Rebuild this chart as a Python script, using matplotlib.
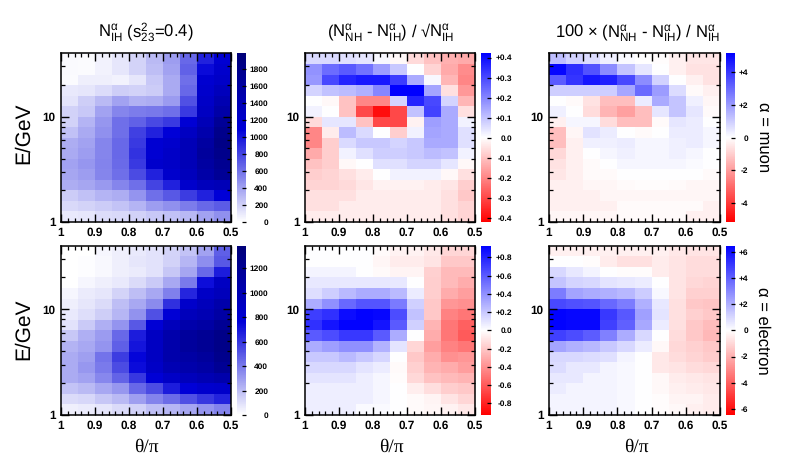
#!/usr/bin/env python3
"""Six event-count panels: IH counts and NH-IH differences, muon and electron."""

import numpy as np
import matplotlib
matplotlib.use("Agg")
import matplotlib.pyplot as plt
from matplotlib.colors import LinearSegmentedColormap, Normalize
from matplotlib.ticker import FixedLocator, FixedFormatter, NullFormatter

plt.rcParams["font.family"] = ["Liberation Sans", "DejaVu Sans"]
plt.rcParams["mathtext.fontset"] = "custom"
plt.rcParams["mathtext.rm"] = "Liberation Sans"
plt.rcParams["mathtext.it"] = "Liberation Sans"
plt.rcParams["mathtext.default"] = "regular"
plt.rcParams["text.hinting"] = "none"

W, H = 788, 469

# rows go from the top of each panel (highest energy) down
counts_muon = [
    [30, 20, 60, 110, 190, 300, 420, 650, 950, 1150],
    [30, 20, 60, 110, 190, 280, 400, 680, 1050, 1200],
    [20, 70, 70, 60, 110, 240, 370, 620, 1170, 1250],
    [100, 110, 150, 210, 200, 220, 370, 650, 1200, 1350],
    [120, 210, 300, 400, 340, 350, 430, 750, 1250, 1450],
    [200, 240, 400, 520, 560, 580, 620, 850, 1300, 1550],
    [200, 320, 450, 620, 680, 780, 850, 1130, 1400, 1700],
    [270, 370, 480, 620, 820, 950, 1100, 1300, 1500, 1800],
    [350, 400, 520, 650, 850, 1150, 1200, 1400, 1600, 1850],
    [370, 420, 520, 650, 880, 1150, 1250, 1400, 1650, 1800],
    [400, 450, 530, 640, 850, 1200, 1250, 1400, 1600, 1750],
    [380, 420, 520, 620, 770, 950, 1200, 1350, 1550, 1700],
    [350, 380, 440, 520, 620, 800, 950, 1200, 1350, 1400],
    [220, 270, 320, 350, 460, 620, 720, 830, 950, 1100],
    [170, 190, 220, 260, 320, 420, 480, 560, 650, 700],
    [100, 110, 150, 170, 200, 240, 270, 310, 400, 480],
]
signif_muon = [
    [.06, .06, .05, .04, .01, -.01, -.06, -.10, -.13, -.14],
    [.18, .24, .27, .23, .16, .09, 0, -.07, -.14, -.19],
    [.17, .30, .36, .38, .38, .32, .14, .01, -.12, -.20],
    [.07, .10, .11, .13, .20, .42, .42, .15, -.05, -.17],
    [0, -.01, -.10, -.20, -.20, .07, .36, .30, .07, -.12],
    [.02, 0, -.10, -.30, -.40, -.30, .10, .31, .14, -.05],
    [-.06, .04, .04, -.10, -.30, -.30, -.02, .16, .14, .02],
    [-.20, -.03, .11, .06, 0, -.08, .02, .15, .14, .05],
    [-.20, -.08, .06, .09, .09, .07, .09, .14, .14, .05],
    [-.14, -.08, .02, .05, .08, .08, .09, .11, .10, .02],
    [-.10, -.08, -.01, 0, .05, .05, .07, .07, .04, -.01],
    [-.08, -.07, -.05, -.03, 0, .02, .02, .02, -.01, -.05],
    [-.07, -.07, -.06, -.04, -.02, -.02, -.02, -.03, -.04, -.08],
    [-.05, -.05, -.05, -.03, -.03, -.03, -.03, -.03, -.05, -.09],
    [-.05, -.05, -.03, -.03, -.03, -.03, -.03, -.03, -.05, -.07],
    [-.03, -.03, -.03, -.03, -.03, -.03, -.03, -.03, -.05, -.07],
]
percent_muon = [
    [1.3, .9, .7, .3, .1, -.03, -.05, -.3, -.5, -.5],
    [5, 4.2, 3.5, 2.3, 1.2, .5, 0, -.3, -.6, -.6],
    [3.3, 4.1, 4.7, 4.5, 3.7, 2.3, .9, 0, -.3, -.6],
    [1, 1, 1, 1, 1.8, 3, 2, .7, -.1, -.3],
    [0, -.1, -.6, -1.3, -1.3, .4, 1.7, 1.2, .3, -.2],
    [.3, 0, -.7, -1.5, -1.9, -1.3, .5, 1.2, .5, -.1],
    [-.3, .2, .2, -.7, -1.3, -1.3, -.1, .5, .4, 0],
    [-1.3, -.2, .6, .4, 0, -.1, 0, .4, .4, .2],
    [-1.3, -.3, .3, .3, .4, .2, .2, .3, .4, .2],
    [-.8, -.3, 0, .2, .3, .2, .2, .3, .2, 0],
    [-.6, -.3, -.1, 0, .2, .2, .2, .2, .1, 0],
    [-.5, -.3, -.1, -.1, 0, 0, 0, 0, 0, -.1],
    [-.3, -.3, -.2, -.2, -.1, -.05, -.05, -.1, -.2, -.2],
    [-.3, -.3, -.3, -.2, -.2, -.2, -.2, -.2, -.2, -.2],
    [-.3, -.3, -.3, -.3, -.1, -.1, -.1, -.1, -.1, -.3],
    [-.2, -.2, -.2, -.2, -.1, -.1, -.1, -.1, -.3, -.3],
]
counts_electron = [
    [5, 5, 30, 50, 70, 90, 130, 180, 280, 480],
    [5, 8, 25, 50, 80, 90, 140, 220, 340, 500],
    [5, 8, 25, 50, 60, 90, 170, 270, 450, 680],
    [5, 30, 50, 70, 110, 160, 260, 400, 720, 900],
    [30, 60, 80, 130, 200, 260, 380, 650, 880, 950],
    [50, 80, 110, 200, 260, 350, 620, 850, 950, 1050],
    [70, 100, 150, 220, 330, 520, 780, 950, 1000, 1100],
    [90, 160, 240, 320, 500, 780, 950, 1050, 1100, 1200],
    [170, 240, 300, 450, 680, 900, 1050, 1150, 1200, 1280],
    [230, 260, 320, 480, 700, 900, 1050, 1150, 1200, 1280],
    [250, 290, 420, 580, 750, 900, 1050, 1100, 1150, 1250],
    [250, 310, 400, 540, 730, 880, 1000, 1050, 1100, 1200],
    [250, 280, 360, 470, 600, 780, 880, 950, 1000, 1050],
    [180, 210, 260, 310, 450, 540, 680, 770, 830, 850],
    [110, 120, 170, 210, 290, 370, 440, 520, 600, 660],
    [50, 60, 80, 110, 140, 190, 220, 270, 320, 370],
]
signif_electron = [
    [0, 0, 0, 0, -.02, -.05, -.05, -.08, -.15, -.15],
    [0, 0, 0, 0, -.03, -.07, -.07, -.10, -.20, -.20],
    [.04, .04, .04, 0, -.02, -.04, -.04, -.17, -.25, -.25],
    [.08, .08, .08, .08, .08, .08, 0, -.18, -.25, -.30],
    [.12, .18, .25, .30, .30, .25, .07, -.18, -.30, -.35],
    [.30, .40, .55, .62, .62, .48, .17, -.20, -.38, -.40],
    [.70, .75, .88, .92, .90, .65, .22, -.20, -.45, -.50],
    [.75, .85, .92, .92, .85, .60, .17, -.27, -.50, -.58],
    [.60, .65, .72, .72, .60, .30, 0, -.30, -.50, -.60],
    [.30, .35, .40, .40, .28, .10, -.15, -.35, -.45, -.50],
    [.20, .20, .25, .20, .15, 0, -.20, -.30, -.40, -.38],
    [.14, .14, .14, .10, .07, -.02, -.17, -.27, -.30, -.35],
    [.10, .10, .10, .06, .03, -.01, -.14, -.22, -.25, -.27],
    [.06, .06, .06, .06, .03, 0, -.06, -.12, -.18, -.20],
    [.06, .06, .06, .06, .03, 0, -.02, -.04, -.10, -.15],
    [.06, .06, .06, .02, .02, 0, -.02, -.03, -.05, -.08],
]
percent_electron = [
    [-.4, -.4, -.4, -.4, -.4, -.4, -.4, -.6, -.7, -.7],
    [0, 0, -.1, -.5, -.8, -.8, -.5, -.7, -.9, -.9],
    [1, .6, .3, 0, -.1, -.1, -.5, -.7, -.9, -.9],
    [1.5, 1.1, 1, .7, .6, .5, 0, -.7, -1, -1.1],
    [3.3, 2.3, 2.1, 2, 1.8, 1.3, .2, -.7, -1.2, -1.2],
    [4.6, 4.4, 4.3, 3.8, 3.3, 2, .6, -.8, -1.4, -1.5],
    [6.4, 6.3, 6.3, 5, 4.2, 2.4, .7, -.8, -1.2, -1.4],
    [6.4, 6.3, 6.3, 4.8, 4, 2.2, .5, -.8, -1.4, -1.7],
    [4.8, 4.5, 4.1, 3.2, 2.1, 1, 0, -.9, -1.4, -1.8],
    [2.3, 2, 1.8, 1.4, 1, .5, -.2, -1, -1.2, -1.4],
    [1, 1, .9, .8, .3, 0, -.6, -.9, -1.1, -1.3],
    [.9, .6, .6, .3, .2, 0, -.6, -.7, -.9, -1],
    [.6, .6, .3, .3, .2, 0, -.2, -.5, -.6, -.7],
    [.5, .3, .3, .3, .2, 0, -.2, -.4, -.5, -.6],
    [.3, .3, .3, .3, .2, 0, -.1, -.3, -.3, -.5],
    [.3, .3, .3, .3, .2, 0, -.1, -.2, -.4, -.5],
]

theta_edges = np.linspace(1.0, 0.5, 11)
energy_edges = 10 ** np.linspace(0.0, 1.6, 17)
theta_ticks = [1, 0.9, 0.8, 0.7, 0.6, 0.5]
theta_labels = ["1", "0.9", "0.8", "0.7", "0.6", "0.5"]

count_ticks_muon = [0, 200, 400, 600, 800, 1000, 1200, 1400, 1600, 1800]
count_ticks_electron = [0, 200, 400, 600, 800, 1000, 1200]
signif_ticks_muon = [-.4, -.3, -.2, -.1, 0, .1, .2, .3, .4]
signif_ticks_electron = [-.8, -.6, -.4, -.2, 0, .2, .4, .6, .8]
percent_ticks_muon = [-4, -2, 0, 2, 4]
percent_ticks_electron = [-6, -4, -2, 0, 2, 4, 6]

blues = LinearSegmentedColormap.from_list(
    "blues", [(0, "#ffffff"), (0.55, "#0000d8"), (1, "#000078")])
redblue = LinearSegmentedColormap.from_list(
    "redblue", ["#ff0000", "#ffffff", "#0000ff"])

fig = plt.figure(figsize=(W / 100, H / 100), dpi=100)


def px_axes(left, top, right, bottom):
    return fig.add_axes([left / W, 1 - bottom / H,
                         (right - left) / W, (bottom - top) / H])


def px_text(x, y, s, **kw):
    fig.text(x / W, 1 - y / H, s, **kw)


def panel(box, cbox, values, vmin, vmax, cmap, ticks, fmt, pad):
    ax = px_axes(*box)
    norm = Normalize(vmin, vmax)
    mesh = ax.pcolormesh(theta_edges, energy_edges, np.array(values)[::-1],
                         cmap=cmap, norm=norm, shading="flat")
    ax.set_yscale("log")
    ax.set_xlim(1.0, 0.5)
    ax.set_ylim(1, 10 ** 1.6)
    ax.xaxis.set_major_locator(FixedLocator(theta_ticks))
    ax.xaxis.set_major_formatter(FixedFormatter(theta_labels))
    ax.xaxis.set_minor_locator(FixedLocator(np.arange(0.5, 1.0, 0.02)))
    ax.yaxis.set_major_locator(FixedLocator([1, 10]))
    ax.yaxis.set_major_formatter(FixedFormatter(["1", "10"]))
    ax.yaxis.set_minor_locator(FixedLocator(
        [2, 3, 4, 5, 6, 7, 8, 9, 20, 30]))
    ax.yaxis.set_minor_formatter(NullFormatter())
    ax.tick_params(which="major", direction="in", top=True, right=True,
                   length=5.5, width=1.0)
    ax.tick_params(which="minor", direction="in", top=True, right=True,
                   length=3, width=0.9)
    ax.tick_params(axis="both", labelsize=8.5, pad=4)
    for lab in ax.get_xticklabels() + ax.get_yticklabels():
        lab.set_fontweight("bold")
    for sp in ax.spines.values():
        sp.set_linewidth(1.1)

    cax = px_axes(*cbox)
    cb = fig.colorbar(mesh, cax=cax)
    cb.outline.set_visible(False)
    cb.set_ticks(ticks)
    cb.set_ticklabels([fmt(t) for t in ticks])
    cax.tick_params(direction="in", length=3, width=0.9, pad=pad,
                    labelsize=6)
    for lab in cax.get_yticklabels():
        lab.set_ha("right")
        lab.set_fontweight("bold")
    return ax


def fmt_count(t):
    return f"{t}"


def fmt_signif(t):
    return "0.0" if t == 0 else f"{t:+.1f}"


def fmt_percent(t):
    return "0" if t == 0 else f"{t:+d}"


top = (53.5, 222)
bot = (245.7, 415)
col_x = [(61, 231), (305, 475), (549, 720)]
bar_x = [(237, 246), (481, 491), (726, 735)]

rows = [
    (top, [(counts_muon, 0, 1985, blues, count_ticks_muon, fmt_count, 16),
           (signif_muon, -.42, .42, redblue, signif_ticks_muon, fmt_signif, 15),
           (percent_muon, -5.16, 5.16, redblue, percent_ticks_muon, fmt_percent, 9.5)]),
    (bot, [(counts_electron, 0, 1385, blues, count_ticks_electron, fmt_count, 16),
           (signif_electron, -.928, .928, redblue, signif_ticks_electron, fmt_signif, 15),
           (percent_electron, -6.46, 6.46, redblue, percent_ticks_electron, fmt_percent, 9.5)]),
]
for (y0, y1), specs in rows:
    for (x0, x1), (c0, c1), (vals, vmin, vmax, cmap, ticks, fmt, pad) in zip(col_x, bar_x, specs):
        panel((x0, y0, x1, y1), (c0, y0, c1, y1), vals, vmin, vmax,
              cmap, ticks, fmt, pad)

title_kw = dict(ha="center", va="baseline", fontsize=12)
px_text(146, 37, r"$N_{IH}^{\alpha}$ ($s_{23}^{2}$=0.4)", **title_kw)
px_text(391, 37, r"($N_{NH}^{\alpha}$ - $N_{IH}^{\alpha}$) / √$N_{IH}^{\alpha}$", **title_kw)
px_text(637, 37, r"100 $\times$ ($N_{NH}^{\alpha}$ - $N_{IH}^{\alpha}$) / $N_{IH}^{\alpha}$", **title_kw)

for y in (133, 329):
    px_text(24, y, "E/GeV", rotation=90, ha="center", va="center", fontsize=15)
for x in (146, 391, 636):
    px_text(x, 447, "θ/π", ha="center", va="center", fontsize=14,
            family=["Liberation Serif", "DejaVu Serif"])
px_text(764, 137, "α = muon", rotation=-90, ha="center", va="center", fontsize=12)
px_text(763, 331, "α = electron", rotation=-90, ha="center", va="center", fontsize=12)

fig.savefig("out.png", dpi=100)
